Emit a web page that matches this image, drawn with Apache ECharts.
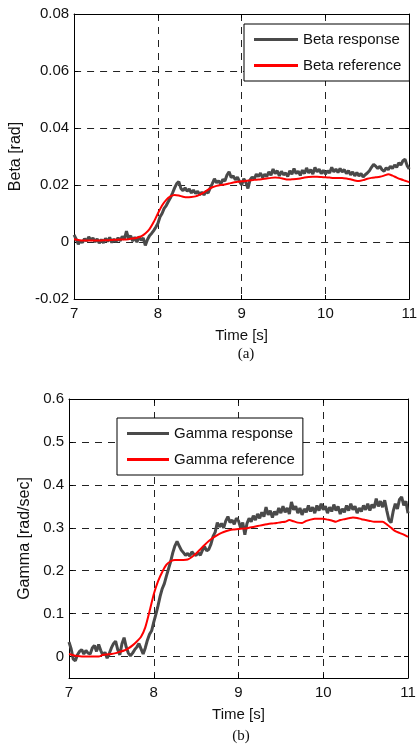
<!DOCTYPE html>
<html>
<head>
<meta charset="utf-8">
<script src="https://cdn.jsdelivr.net/npm/echarts@6/dist/echarts.min.js"></script>
<style>
  html, body { margin: 0; padding: 0; background: #fff; }
  #chart { width: 420px; height: 749px; }
</style>
</head>
<body>
<div id="chart"></div>
<script>
// time axis of both plots
var tMin = 7, tMax = 11;
var xTicks = [7, 8, 9, 10, 11];

var respStep = 0.025;
var refStep = 0.05;

// (a) beta response [rad], every 0.025 s from 7 s
var betaResp = [
  0.0025, 0.0010, -0.0008, 0.0004, -0.0002, 0.0012, 0.0003, 0.0018, 0.0006, 0.0014,
  0.0000, 0.0011, -0.0004, 0.0009, -0.0003, 0.0013, 0.0002, 0.0016, -0.0002, 0.0010,
  0.0001, 0.0015, 0.0004, 0.0020, 0.0009, 0.0038, 0.0012, 0.0022, 0.0003, 0.0017,
  -0.0001, 0.0019, 0.0006, 0.0014, -0.0012, 0.0008, 0.0022, 0.0030, 0.0040, 0.0052,
  0.0065, 0.0088, 0.0100, 0.0118, 0.0128, 0.0142, 0.0155, 0.0172, 0.0190, 0.0205,
  0.0212, 0.0188, 0.0180, 0.0190, 0.0178, 0.0186, 0.0172, 0.0182, 0.0170, 0.0178,
  0.0166, 0.0175, 0.0165, 0.0178, 0.0172, 0.0190, 0.0205, 0.0222, 0.0208, 0.0215,
  0.0203, 0.0220, 0.0214, 0.0235, 0.0246, 0.0226, 0.0232, 0.0218, 0.0228, 0.0212,
  0.0200, 0.0222, 0.0210, 0.0188, 0.0218, 0.0228, 0.0220, 0.0238, 0.0230, 0.0242,
  0.0226, 0.0238, 0.0230, 0.0246, 0.0234, 0.0256, 0.0240, 0.0250, 0.0232, 0.0248,
  0.0236, 0.0242, 0.0230, 0.0250, 0.0238, 0.0258, 0.0240, 0.0248, 0.0234, 0.0252,
  0.0240, 0.0260, 0.0242, 0.0254, 0.0238, 0.0262, 0.0246, 0.0256, 0.0240, 0.0252,
  0.0238, 0.0250, 0.0242, 0.0262, 0.0246, 0.0256, 0.0244, 0.0258, 0.0246, 0.0254,
  0.0240, 0.0250, 0.0236, 0.0246, 0.0232, 0.0244, 0.0232, 0.0240, 0.0228, 0.0236,
  0.0242, 0.0250, 0.0262, 0.0272, 0.0266, 0.0258, 0.0266, 0.0254, 0.0248, 0.0260,
  0.0254, 0.0266, 0.0258, 0.0270, 0.0262, 0.0278, 0.0270, 0.0285, 0.0290, 0.0268,
  0.0256
];

// (a) beta reference [rad], every 0.05 s from 7 s
var betaRef = [
  0.0010, 0.0007, 0.0005, 0.0005, 0.0005, 0.0005, 0.0005, 0.0006, 0.0006, 0.0007,
  0.0008, 0.0009, 0.0009, 0.0010, 0.0012, 0.0015, 0.0020, 0.0030, 0.0045, 0.0070,
  0.0100, 0.0128, 0.0148, 0.0160, 0.0165, 0.0163, 0.0159, 0.0157, 0.0158, 0.0160,
  0.0166, 0.0174, 0.0184, 0.0192, 0.0197, 0.0200, 0.0202, 0.0205, 0.0209, 0.0211,
  0.0213, 0.0214, 0.0216, 0.0218, 0.0219, 0.0221, 0.0223, 0.0225, 0.0226, 0.0225,
  0.0222, 0.0219, 0.0220, 0.0221, 0.0223, 0.0226, 0.0228, 0.0229, 0.0229, 0.0228,
  0.0227, 0.0226, 0.0225, 0.0225, 0.0225, 0.0223, 0.0220, 0.0216, 0.0214, 0.0217,
  0.0222, 0.0225, 0.0227, 0.0229, 0.0233, 0.0238, 0.0233, 0.0226, 0.0220, 0.0215,
  0.0210
];

// (b) gamma response [rad/sec], every 0.025 s from 7 s
var gammaResp = [
  0.034, 0.018, -0.006, -0.010, 0.004, 0.012, 0.016, 0.006, 0.014, 0.008,
  0.006, 0.020, 0.026, 0.012, 0.028, 0.014, 0.003, 0.010, -0.004, 0.007,
  0.020, 0.030, 0.036, 0.016, 0.004, 0.030, 0.044, 0.022, 0.008, 0.002,
  0.008, 0.016, 0.022, 0.030, 0.018, 0.006, 0.020, 0.038, 0.052, 0.060,
  0.080, 0.098, 0.118, 0.140, 0.158, 0.170, 0.188, 0.205, 0.222, 0.242,
  0.258, 0.268, 0.258, 0.248, 0.242, 0.236, 0.240, 0.234, 0.244, 0.238,
  0.236, 0.242, 0.236, 0.248, 0.256, 0.246, 0.250, 0.262, 0.280, 0.290,
  0.312, 0.302, 0.310, 0.300, 0.316, 0.326, 0.312, 0.318, 0.308, 0.322,
  0.316, 0.300, 0.312, 0.284, 0.310, 0.322, 0.314, 0.328, 0.318, 0.332,
  0.322, 0.336, 0.326, 0.348, 0.330, 0.340, 0.324, 0.338, 0.330, 0.346,
  0.334, 0.350, 0.336, 0.346, 0.332, 0.360, 0.342, 0.350, 0.334, 0.346,
  0.330, 0.344, 0.336, 0.352, 0.338, 0.348, 0.334, 0.352, 0.340, 0.356,
  0.342, 0.350, 0.334, 0.348, 0.338, 0.354, 0.340, 0.350, 0.332, 0.344,
  0.336, 0.352, 0.340, 0.356, 0.342, 0.350, 0.334, 0.346, 0.338, 0.352,
  0.342, 0.356, 0.340, 0.354, 0.346, 0.368, 0.350, 0.362, 0.348, 0.364,
  0.340, 0.318, 0.312, 0.338, 0.356, 0.344, 0.366, 0.372, 0.352, 0.362,
  0.334
];

// (b) gamma reference [rad/sec], every 0.05 s from 7 s
var gammaRef = [
  0.006, 0.003, 0.001, 0.000, 0.000, 0.000, 0.000, 0.000, 0.004, 0.005,
  0.006, 0.008, 0.011, 0.014, 0.019, 0.026, 0.035, 0.046, 0.068, 0.105,
  0.145, 0.175, 0.197, 0.214, 0.222, 0.225, 0.225, 0.225, 0.226, 0.232,
  0.240, 0.250, 0.260, 0.269, 0.277, 0.283, 0.288, 0.292, 0.295, 0.296,
  0.297, 0.298, 0.299, 0.301, 0.303, 0.305, 0.307, 0.309, 0.310, 0.311,
  0.313, 0.314, 0.318, 0.315, 0.312, 0.311, 0.316, 0.319, 0.321, 0.321,
  0.321, 0.319, 0.317, 0.314, 0.318, 0.320, 0.322, 0.324, 0.323, 0.320,
  0.318, 0.316, 0.314, 0.314, 0.314, 0.308, 0.300, 0.292, 0.288, 0.284,
  0.279
];

var betaTicks = [-0.02, 0, 0.02, 0.04, 0.06, 0.08];
var gammaTicks = [0, 0.1, 0.2, 0.3, 0.4, 0.5, 0.6];

function pairs(vals, step) {
  return vals.map(function (v, i) {
    return [+(tMin + i * step).toFixed(3), v];
  });
}

var font = '"Liberation Sans", Arial, sans-serif';
var gray = '#4a4a4a';
var red = '#ff0000';

var dashed = { show: true, lineStyle: { color: '#222', type: [7, 6], width: 1 } };

function xAx(grid, pos, labels) {
  return {
    type: 'value', gridIndex: grid, position: pos,
    min: tMin, max: tMax, interval: 1,
    name: labels ? 'Time [s]' : '', nameLocation: 'middle', nameGap: 29,
    nameTextStyle: { fontFamily: font, fontSize: 15, color: '#111' },
    axisLine: { show: true, onZero: false, lineStyle: { color: '#000', width: 1 } },
    axisTick: { show: true, inside: true, length: 4, lineStyle: { color: '#000' } },
    axisLabel: { show: labels, margin: 7, fontFamily: font, fontSize: 15, color: '#111' },
    splitLine: labels ? dashed : { show: false }
  };
}

function yAx(grid, pos, labels, opts) {
  var a = {
    type: 'value', gridIndex: grid, position: pos,
    name: labels ? opts.name : '', nameLocation: 'middle', nameGap: opts.gap,
    nameTextStyle: { fontFamily: font, fontSize: 16, color: '#111' },
    axisLine: { show: true, onZero: false, lineStyle: { color: '#000', width: 1 } },
    axisTick: { show: true, inside: true, length: 4, lineStyle: { color: '#000' } },
    axisLabel: { show: labels, margin: 5, fontFamily: font, fontSize: 15, color: '#111',
      showMinLabel: opts.showMin, formatter: opts.fmt },
    splitLine: labels ? dashed : { show: false }
  };
  for (var k in opts.scale) a[k] = opts.scale[k];
  return a;
}

var betaScale = { min: betaTicks[0], max: betaTicks[betaTicks.length - 1], interval: 0.02 };
var gammaScale = { min: -0.05, max: gammaTicks[gammaTicks.length - 1], splitNumber: 7 };
var gammaFmt = function (v) { return v < -0.001 ? '' : String(+v.toFixed(2)); };

var myChart = echarts.init(document.getElementById('chart'));
var option = {
  animation: false,
  backgroundColor: '#fff',
  title: [
    { text: '(a)', left: 241, top: 342, textAlign: 'center',
      textStyle: { fontFamily: '"Liberation Serif", "Times New Roman", serif', fontSize: 15, fontWeight: 'normal', color: '#111' } },
    { text: '(b)', left: 236, top: 724, textAlign: 'center',
      textStyle: { fontFamily: '"Liberation Serif", "Times New Roman", serif', fontSize: 15, fontWeight: 'normal', color: '#111' } }
  ],
  grid: [
    { left: 72, top: 14, width: 342, height: 285 },
    { left: 69, top: 399, width: 339, height: 279 }
  ],
  legend: [
    { data: ['Beta response', 'Beta reference'], orient: 'vertical', left: 244, top: 24,
      padding: [8, 8, 8, 10], itemWidth: 44, itemHeight: 3, itemGap: 11, icon: 'rect',
      backgroundColor: '#fff', borderColor: '#000', borderWidth: 1,
      textStyle: { fontFamily: font, fontSize: 15, color: '#111' } },
    { data: ['Gamma response', 'Gamma reference'], orient: 'vertical', left: 117, top: 418,
      padding: [8, 8, 8, 10], itemWidth: 42, itemHeight: 3, itemGap: 11, icon: 'rect',
      backgroundColor: '#fff', borderColor: '#000', borderWidth: 1,
      textStyle: { fontFamily: font, fontSize: 15, color: '#111' } }
  ],
  xAxis: [
    xAx(0, 'bottom', true), xAx(0, 'top', false),
    xAx(1, 'bottom', true), xAx(1, 'top', false)
  ],
  yAxis: [
    yAx(0, 'left', true, { name: 'Beta [rad]', gap: 43, scale: betaScale, showMin: true }),
    yAx(0, 'right', false, { scale: betaScale }),
    yAx(1, 'left', true, { name: 'Gamma [rad/sec]', gap: 28, scale: gammaScale, showMin: false, fmt: gammaFmt }),
    yAx(1, 'right', false, { scale: gammaScale })
  ],
  series: [
    { name: 'Beta response', type: 'line', xAxisIndex: 0, yAxisIndex: 0,
      data: pairs(betaResp, respStep), showSymbol: false, symbol: 'none',
      itemStyle: { color: gray }, lineStyle: { color: gray, width: 3 } },
    { name: 'Beta reference', type: 'line', xAxisIndex: 0, yAxisIndex: 0,
      data: pairs(betaRef, refStep), showSymbol: false, symbol: 'none', smooth: 0.2,
      itemStyle: { color: red }, lineStyle: { color: red, width: 2 } },
    { name: 'Gamma response', type: 'line', xAxisIndex: 2, yAxisIndex: 2,
      data: pairs(gammaResp, respStep), showSymbol: false, symbol: 'none',
      itemStyle: { color: gray }, lineStyle: { color: gray, width: 3 } },
    { name: 'Gamma reference', type: 'line', xAxisIndex: 2, yAxisIndex: 2,
      data: pairs(gammaRef, refStep), showSymbol: false, symbol: 'none', smooth: 0.2,
      itemStyle: { color: red }, lineStyle: { color: red, width: 2 } }
  ]
};
myChart.setOption(option);
</script>
</body>
</html>
